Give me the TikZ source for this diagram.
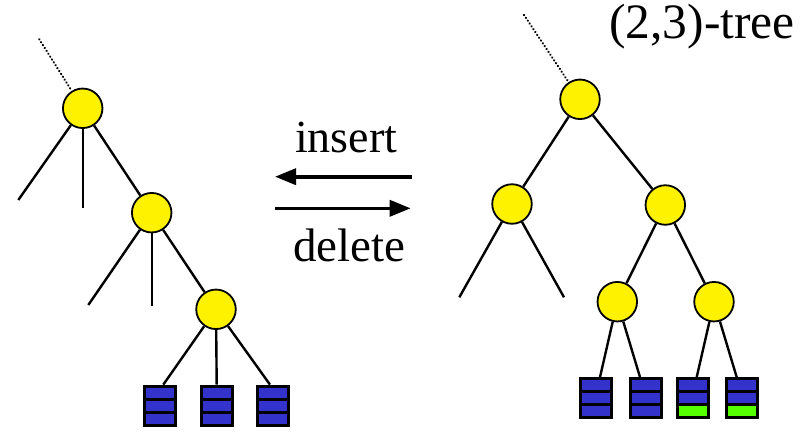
\documentclass[tikz,border=0pt]{standalone}
\usepackage{fontspec}
\setmainfont{Liberation Serif}
\usetikzlibrary{calc,arrows.meta}
\definecolor{leafblue}{RGB}{51,51,204}
\definecolor{leafgreen}{RGB}{85,255,0}
\begin{document}
\begin{tikzpicture}[x=1pt,y=-1pt,
  knot/.style={circle, draw=black, line width=1.8pt, fill=yellow, minimum size=39.5pt, inner sep=0pt},
  edge/.style={line width=2.4pt},
  dotline/.style={line width=2.4pt, line cap=round, dash pattern=on 0.1pt off 3.3pt},
  leaf/.style={rectangle, draw=black, line width=3.3pt, fill=leafblue,
    minimum width=31pt, minimum height=39pt, inner sep=0pt,
    path picture={
      \draw[line width=3.3pt] ([xshift=-20pt,yshift=6.5pt]path picture bounding box.center) -- ++(40,0);
      \draw[line width=3.3pt] ([xshift=-20pt,yshift=-6.5pt]path picture bounding box.center) -- ++(40,0);
    }},
  greenleaf/.style={leaf,
    path picture={
      \fill[leafgreen] ([xshift=-20pt,yshift=-6.5pt]path picture bounding box.center) rectangle ++(40,20);
      \draw[line width=3.3pt] ([xshift=-20pt,yshift=6.5pt]path picture bounding box.center) -- ++(40,0);
      \draw[line width=3.3pt] ([xshift=-20pt,yshift=-6.5pt]path picture bounding box.center) -- ++(40,0);
    }},
  arrowline/.style={line width=3.6pt, -{Triangle[length=21pt,width=16pt]}},
  label/.style={inner sep=0pt, anchor=base west}
]
\useasboundingbox (0,0) rectangle (805,431);

% ---------- left tree ----------
\coordinate (ld) at (39.3,39.3);
\node[knot] (L1) at (82.7,108.3) {};
\node[knot] (L2) at (151.7,212.7) {};
\node[knot] (L3) at (216,309.3) {};
\coordinate (l1a) at (18.3,200);
\coordinate (l1b) at (82.7,208);
\coordinate (l2a) at (88.3,305);
\coordinate (l2b) at (151.7,306);
\node[leaf] (la) at (160,405.8) {};
\node[leaf] (lb) at (216.7,405.8) {};
\node[leaf] (lc) at (273.3,405.8) {};

\draw[dotline] (ld) -- (L1);
\draw[edge] (L1) -- (l1a);
\draw[edge] (L1) -- (l1b);
\draw[edge] (L1) -- (L2);
\draw[edge] (L2) -- (l2a);
\draw[edge] (L2) -- (l2b);
\draw[edge] (L2) -- (L3);
\draw[edge] (L3) -- ([xshift=3.3pt]la.north);
\draw[edge] (L3) -- (lb.north);
\draw[edge] (L3) -- ([xshift=-3.3pt]lc.north);

% ---------- right tree ----------
\coordinate (rd) at (524,15);
\node[knot] (R1) at (580,99.3) {};
\node[knot] (R2) at (512,204) {};
\node[knot] (R3) at (665.3,205) {};
\node[knot] (R4) at (617.3,301.7) {};
\node[knot] (R5) at (714,301.7) {};
\coordinate (r2a) at (459.3,297.3);
\coordinate (r2b) at (564,297.3);
\node[leaf] (ra) at (596.3,398.3) {};
\node[leaf] (rb) at (645.7,398.3) {};
\node[greenleaf] (rc) at (693.3,398.3) {};
\node[greenleaf] (re) at (742,398.3) {};

\draw[dotline] (rd) -- (R1);
\draw[edge] (R1) -- (R2);
\draw[edge] (R1) -- (R3);
\draw[edge] (R2) -- (r2a);
\draw[edge] (R2) -- (r2b);
\draw[edge] (R3) -- (R4);
\draw[edge] (R3) -- (R5);
\draw[edge] (R4) -- ([xshift=3.7pt]ra.north);
\draw[edge] (R4) -- ([xshift=-5.7pt]rb.north);
\draw[edge] (R5) -- ([xshift=3.4pt]rc.north);
\draw[edge] (R5) -- ([xshift=-5.3pt]re.north);

% ---------- arrows and labels ----------
\coordinate (ia) at (411.7,176.7);
\coordinate (ib) at (275,176.7);
\coordinate (da) at (275,208.3);
\coordinate (db) at (410.7,208.3);
\draw[arrowline] (ia) -- (ib);
\draw[arrowline] (da) -- (db);

\node[label, font=\fontsize{46}{50}\selectfont] (ins) at (295,152.7) {insert};
\node[label, font=\fontsize{47}{50}\selectfont] (del) at (293,261.7) {delete};
\node[label, font=\fontsize{49.5}{52}\selectfont] (ttl) at (609,38.3) {(2,3)-tree};
\end{tikzpicture}
\end{document}
